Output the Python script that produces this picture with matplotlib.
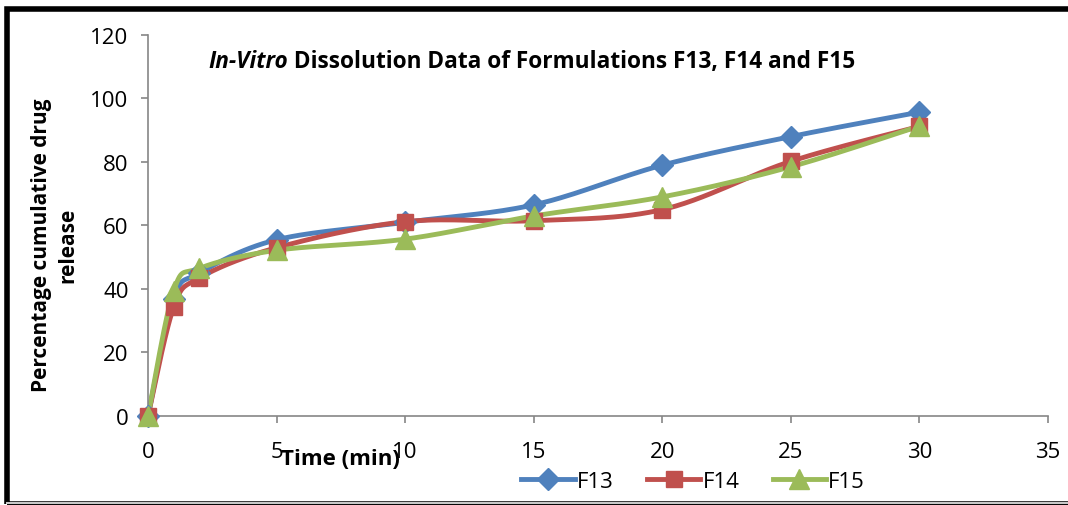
import numpy as np
import matplotlib.pyplot as plt
from matplotlib.lines import Line2D
from matplotlib.patches import Rectangle

plt.rcParams['font.family'] = ['Open Sans', 'DejaVu Sans']

# Dissolution data
time_min = [0, 1, 2, 5, 10, 15, 20, 25, 30]
f13 = [0, 37, 45, 55.5, 61, 66.5, 79, 88, 95.7]
f14 = [0, 34.3, 43.5, 53, 61.2, 61.5, 65, 80.2, 91.2]
f15 = [0, 39.5, 46.5, 52.2, 55.7, 63, 69, 78.5, 91.3]
names = ['F13', 'F14', 'F15']
colors = ['#4F81BD', '#C0504D', '#9BBB59']
markers = ['D', 's', '^']
msizes = [11, 12, 14]


def smooth(x, y, sx=25.7, sy=3.175, n=30):
    # Excel-like smoothed line: cardinal bezier in pixel-ish space
    p = np.column_stack([np.asarray(x, float) * sx, np.asarray(y, float) * sy])
    out = [p[0]]
    for i in range(len(p) - 1):
        p0 = p[i - 1] if i > 0 else p[i]
        p3 = p[i + 2] if i + 2 < len(p) else p[i + 1]
        c1 = p[i] + (p[i + 1] - p0) / 6
        c2 = p[i + 1] - (p3 - p[i]) / 6
        t = np.linspace(0, 1, n)[1:, None]
        seg = ((1 - t) ** 3 * p[i] + 3 * (1 - t) ** 2 * t * c1
               + 3 * (1 - t) * t ** 2 * c2 + t ** 3 * p[i + 1])
        out.extend(seg)
    out = np.array(out)
    return out[:, 0] / sx, out[:, 1] / sy


fig = plt.figure(figsize=(10.68, 5.06), dpi=100)
ax = fig.add_axes([0.1386, 0.1759, 0.8427, 0.753])

for ys, c, m, ms, nm in zip([f13, f14, f15], colors, markers, msizes, names):
    xs, yy = smooth(time_min, ys)
    ax.plot(xs, yy, color=c, lw=3.5, solid_capstyle='round', zorder=2)
    ax.plot(time_min, ys, ls='none', marker=m, ms=ms, color=c, zorder=3,
            clip_on=False)

ax.set_xlim(0, 35)
ax.set_ylim(0, 120)
ax.set_xticks(range(0, 36, 5))
ax.set_yticks(range(0, 121, 20))
for s in ['top', 'right']:
    ax.spines[s].set_visible(False)
for s in ['left', 'bottom']:
    ax.spines[s].set_color('#868686')
    ax.spines[s].set_linewidth(1.2)
ax.tick_params(axis='y', length=5, width=1.2, color='#868686', pad=9,
               labelsize=16)
ax.tick_params(axis='x', length=5, width=1.2, color='#868686', pad=13,
               labelsize=16)

# title: italic part followed directly by the bold part
t1 = fig.text(0.195, 0.877, 'In-Vitro', fontsize=16.3, fontweight='bold',
              fontstyle='italic', va='center', ha='left')
ax.annotate(' Dissolution Data of Formulations F13, F14 and F15',
            xy=(1, 0.5), xycoords=t1, va='center', ha='left',
            fontsize=16.3, fontweight='bold')

fig.text(0.319, 0.092, 'Time (min)', fontsize=16, fontweight='bold',
         ha='center', va='center')
fig.text(0.051, 0.515, 'Percentage cumulative drug\nrelease', fontsize=15,
         fontweight='bold', rotation=90, ha='center', va='center',
         multialignment='center', linespacing=1.35)

handles = [Line2D([], [], color=c, lw=3.5, marker=m, ms=ms)
           for c, m, ms in zip(colors, markers, msizes)]
fig.legend(handles, names, loc='center', bbox_to_anchor=(0.649, 0.047),
           ncol=3, frameon=False, fontsize=16, handlelength=2.4,
           columnspacing=1.5, handletextpad=0.1)

# outer frame of the original figure
fig.add_artist(Rectangle((0.007, 0.002), 1.2, 0.978, transform=fig.transFigure,
                         fill=False, lw=4, edgecolor='black'))
fig.add_artist(Line2D([0.007, 1], [0.004, 0.004], transform=fig.transFigure,
                      color='#C8C8C8', lw=1.5))

fig.savefig('out.png', dpi=100)
